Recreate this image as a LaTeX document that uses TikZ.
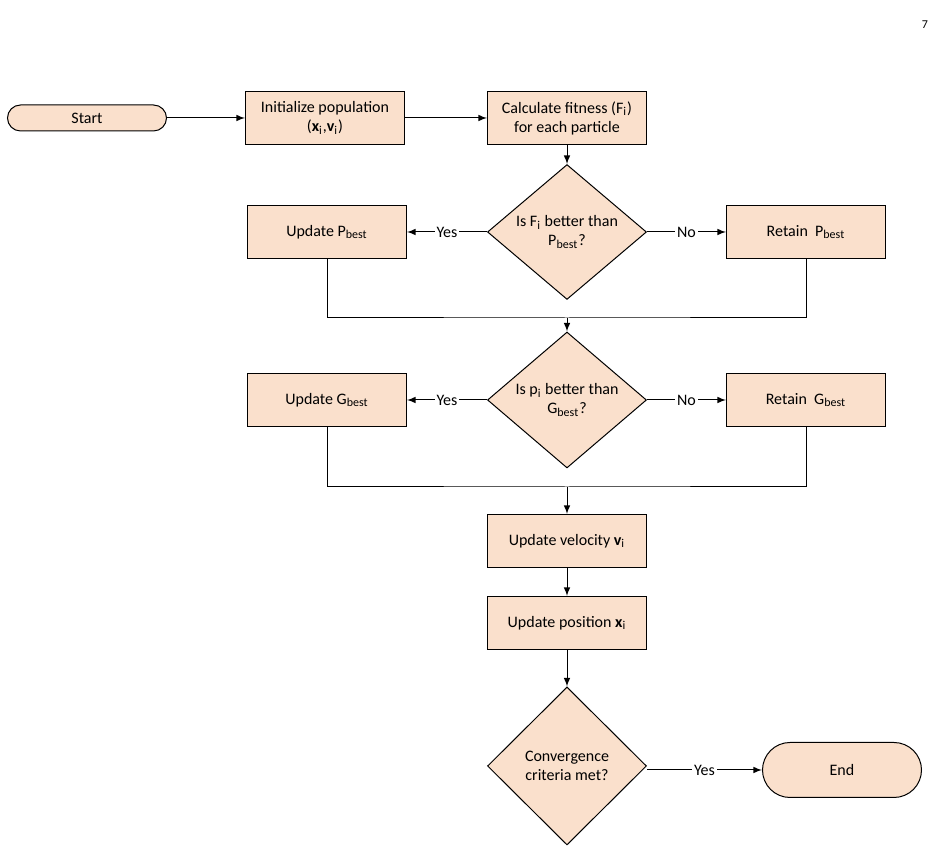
\documentclass[tikz,border=0pt]{standalone}
\usepackage{fontspec}
\setmainfont{Carlito}
\usetikzlibrary{shapes.geometric}
\definecolor{peach}{RGB}{250,224,204}
\begin{document}
\begin{tikzpicture}[
  x = 0.5pt, y = -0.5pt,
  font = \fontsize{8}{9.5}\selectfont,
  box/.style = {
    draw, fill = peach,
    minimum width = 79.5pt, minimum height = 26.5pt,
    inner sep = 1pt, align = center
  },
  term/.style = {
    box, rounded corners = 6.5pt, minimum height = 13pt
  },
  decide/.style = {
    draw, fill = peach, shape = diamond, inner sep = 0pt,
    minimum width = 79.5pt, minimum height = 55.5pt, align = center
  },
  lbl/.style = {
    fill = white, inner sep = 1pt
  },
  every path/.style = {
    line width = 0.5pt
  },
  >=latex
]
  \useasboundingbox (0, 0) rectangle (939, 854);
  \node[font = \fontsize{6}{7}\selectfont] (page) at (925, 25) {7};

  \node[term] (start) at (87, 118) {Start};
  \node[box] (init) at (325, 118) {Initialize population\\(\textbf{x}\textsubscript{i},\textbf{v}\textsubscript{i})};
  \node[box] (fit) at (567, 118) {Calculate fitness (F\textsubscript{i})\\for each particle};

  \node[decide] (d1) at (567, 232) {Is F\textsubscript{i} better than\\P\textsubscript{best}?};
  \node[box] (up) at (327, 232) {Update P\textsubscript{best}};
  \node[box] (rp) at (806, 232) {Retain\ \ P\textsubscript{best}};

  \node[decide] (d2) at (567, 400) {Is p\textsubscript{i} better than\\G\textsubscript{best}?};
  \node[box] (ug) at (327, 400) {Update G\textsubscript{best}};
  \node[box] (rg) at (806, 400) {Retain\ \ G\textsubscript{best}};

  \node[box] (vel) at (567, 541) {Update velocity \textbf{v}\textsubscript{i}};
  \node[box] (pos) at (567, 623) {Update position \textbf{x}\textsubscript{i}};
  \node[decide, minimum height = 79pt] (d3) at (567, 766) {Convergence\\criteria met?};
  \node[term, minimum height = 27.5pt, rounded corners = 13.75pt] (end) at (842, 770) {End};

  \coordinate (m1) at (567, 318);
  \coordinate (m2) at (567, 487);

  \draw[->] (start) -- (init);
  \draw[->] (init) -- (fit);
  \draw[->] (fit) -- (d1);
  \draw[->] (d1) -- node[lbl] {Yes} (up);
  \draw[->] (d1) -- node[lbl] {No} (rp);
  \draw (up) |- (m1) -| (rp);
  \draw[->] (m1) -- (d2);
  \draw[->] (d2) -- node[lbl] {Yes} (ug);
  \draw[->] (d2) -- node[lbl] {No} (rg);
  \draw (ug) |- (m2) -| (rg);
  \draw[->] (m2) -- (vel);
  \draw[->] (vel) -- (pos);
  \draw[->] (pos) -- (d3);
  \draw[->] (d3.east |- end) -- node[lbl] {Yes} (end);
\end{tikzpicture}
\end{document}
